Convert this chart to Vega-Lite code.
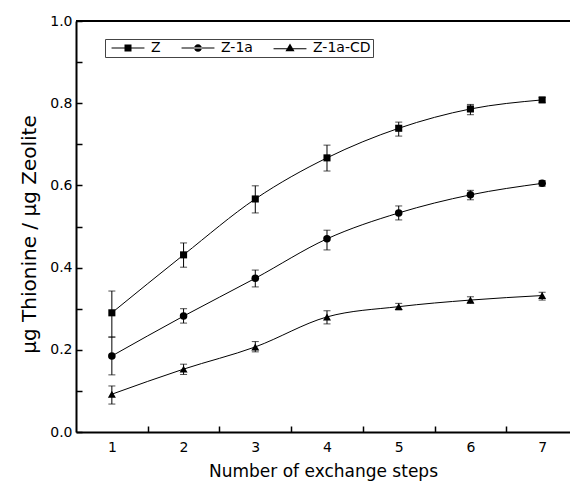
{
  "$schema": "https://vega.github.io/schema/vega-lite/v6.json",
  "width": 494,
  "height": 411,
  "autosize": {"type": "none"},
  "padding": {"left": 76, "top": 21, "right": 0, "bottom": 61},
  "background": "white",
  "config": {
    "view": {"stroke": null},
    "font": "DejaVu Sans",
    "axis": {"grid": false, "domainColor": "black", "domainWidth": 2, "tickColor": "black", "tickWidth": 1.5, "labelColor": "black", "titleColor": "black", "labelFont": "DejaVu Sans", "titleFont": "DejaVu Sans", "titleFontWeight": "normal", "labelFlush": false}
  },
  "data": {"values": [
    {"series": "Z", "step": 1, "value": 0.290, "lo": 0.231, "hi": 0.343},
    {"series": "Z", "step": 2, "value": 0.431, "lo": 0.401, "hi": 0.460},
    {"series": "Z", "step": 3, "value": 0.567, "lo": 0.533, "hi": 0.599},
    {"series": "Z", "step": 4, "value": 0.667, "lo": 0.635, "hi": 0.698},
    {"series": "Z", "step": 5, "value": 0.739, "lo": 0.720, "hi": 0.754},
    {"series": "Z", "step": 6, "value": 0.786, "lo": 0.772, "hi": 0.797},
    {"series": "Z", "step": 7, "value": 0.808, "lo": 0.802, "hi": 0.814},
    {"series": "Z-1a", "step": 1, "value": 0.185, "lo": 0.139, "hi": 0.231},
    {"series": "Z-1a", "step": 2, "value": 0.282, "lo": 0.265, "hi": 0.300},
    {"series": "Z-1a", "step": 3, "value": 0.374, "lo": 0.353, "hi": 0.394},
    {"series": "Z-1a", "step": 4, "value": 0.470, "lo": 0.443, "hi": 0.491},
    {"series": "Z-1a", "step": 5, "value": 0.533, "lo": 0.516, "hi": 0.550},
    {"series": "Z-1a", "step": 6, "value": 0.577, "lo": 0.565, "hi": 0.588},
    {"series": "Z-1a", "step": 7, "value": 0.605, "lo": 0.598, "hi": 0.612},
    {"series": "Z-1a-CD", "step": 1, "value": 0.092, "lo": 0.068, "hi": 0.112},
    {"series": "Z-1a-CD", "step": 2, "value": 0.153, "lo": 0.140, "hi": 0.165},
    {"series": "Z-1a-CD", "step": 3, "value": 0.207, "lo": 0.195, "hi": 0.220},
    {"series": "Z-1a-CD", "step": 4, "value": 0.280, "lo": 0.263, "hi": 0.295},
    {"series": "Z-1a-CD", "step": 5, "value": 0.305, "lo": 0.297, "hi": 0.313},
    {"series": "Z-1a-CD", "step": 6, "value": 0.321, "lo": 0.313, "hi": 0.329},
    {"series": "Z-1a-CD", "step": 7, "value": 0.332, "lo": 0.321, "hi": 0.340}
  ]},
  "layer": [
    {
      "mark": {"type": "line", "color": "black", "strokeWidth": 1, "interpolate": "monotone"},
      "encoding": {
        "x": {"field": "step", "type": "quantitative", "title": "Number of exchange steps", "scale": {"domain": [0.5, 7.3885], "nice": false, "zero": false},
          "axis": {"values": [1, 2, 3, 4, 5, 6, 7], "format": "d", "tickOffset": 35.86, "labelOffset": -35.86, "tickSize": -6, "labelPadding": 14, "labelFontSize": 14, "titleFontSize": 17, "titlePadding": 9}},
        "y": {"field": "value", "type": "quantitative", "title": "µg Thionine / µg Zeolite", "scale": {"domain": [0, 1], "nice": false},
          "axis": {"values": [0, 0.1, 0.2, 0.3, 0.4, 0.5, 0.6, 0.7, 0.8, 0.9, 1.0], "labelExpr": "(round(datum.value*10) % 2 == 0) ? format(datum.value, '.1f') : ''", "tickSize": -6, "labelPadding": 10, "labelFontSize": 14, "titleFontSize": 20, "titlePadding": 10, "titleY": 213}},
        "detail": {"field": "series"}
      }
    },
    {
      "mark": {"type": "rule", "color": "black", "strokeWidth": 2},
      "encoding": {"y": {"datum": 1}}
    },
    {
      "mark": {"type": "errorbar", "color": "black", "ticks": {"size": 7, "color": "black"}, "rule": {"strokeWidth": 1}},
      "encoding": {
        "x": {"field": "step", "type": "quantitative", "title": "Number of exchange steps"},
        "y": {"field": "lo", "type": "quantitative", "title": "µg Thionine / µg Zeolite"},
        "y2": {"field": "hi"},
        "detail": {"field": "series"}
      }
    },
    {
      "mark": {"type": "point", "filled": true, "color": "black", "opacity": 1},
      "encoding": {
        "x": {"field": "step", "type": "quantitative", "title": "Number of exchange steps"},
        "y": {"field": "value", "type": "quantitative", "title": "µg Thionine / µg Zeolite"},
        "shape": {"field": "series", "type": "nominal", "scale": {"domain": ["Z", "Z-1a", "Z-1a-CD"], "range": ["square", "circle", "triangle-up"]}, "legend": null},
        "size": {"field": "series", "type": "nominal", "scale": {"domain": ["Z", "Z-1a", "Z-1a-CD"], "range": [50, 64, 70]}, "legend": null}
      }
    },
    {
      "mark": {"type": "point", "filled": true, "color": "black", "opacity": 0},
      "encoding": {
        "x": {"field": "step", "type": "quantitative", "title": "Number of exchange steps"},
        "y": {"field": "value", "type": "quantitative", "title": "µg Thionine / µg Zeolite"},
        "shape": {"field": "series", "type": "nominal",
          "scale": {"domain": ["Z", "Z-1a", "Z-1a-CD"], "range": [
            "M-4.7,-0.15H4.7V0.15H-4.7ZM-1,-1H1V1H-1Z",
            "M-4.7,-0.15H4.7V0.15H-4.7ZM-1.1,0A1.1,1.1,0,1,0,1.1,0A1.1,1.1,0,1,0,-1.1,0Z",
            "M-4.7,0.05H4.7V0.35H-4.7ZM0,-1.3L1.3,0.9L-1.3,0.9Z"
          ]},
          "legend": {"orient": "none", "legendX": 29, "legendY": 18, "direction": "horizontal", "title": null, "symbolSize": 49, "labelFont": "DejaVu Sans", "labelFontSize": 14, "labelColor": "black", "labelOffset": 16, "symbolOffset": 14, "columnPadding": 16, "strokeColor": "#444", "fillColor": "white", "padding": 2,
            "encode": {"symbols": {"update": {"stroke": {"value": "black"}, "strokeWidth": {"value": 0.5}, "fill": {"value": "black"}, "opacity": {"value": 1}, "fillOpacity": {"value": 1}, "strokeOpacity": {"value": 1}}}}}
        }
      }
    }
  ],
  "resolve": {"scale": {"shape": "independent", "size": "independent"}}
}
